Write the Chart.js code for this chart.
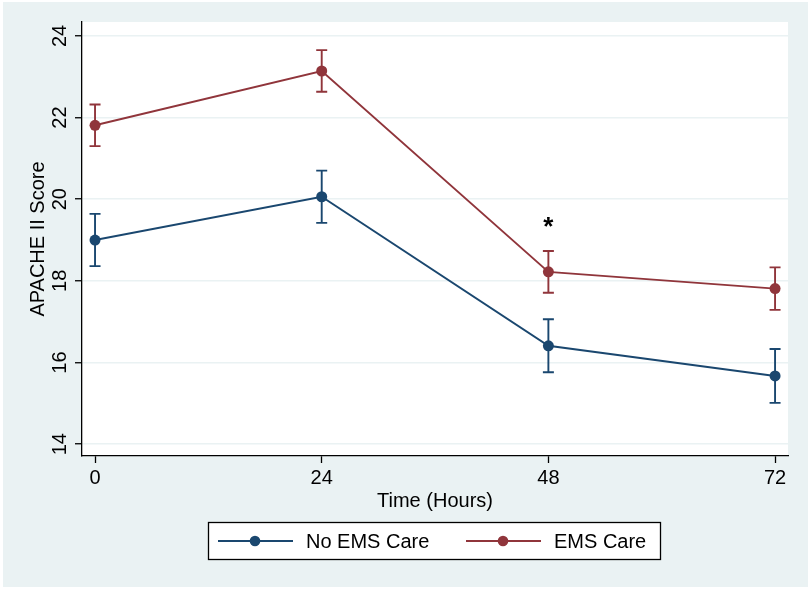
<!DOCTYPE html>
<html>
<head>
<meta charset="utf-8">
<script src="https://cdn.jsdelivr.net/npm/chart.js@4.4.1/dist/chart.umd.min.js"></script>
<style>
html,body{margin:0;padding:0;background:#fff;}
#wrap{width:811px;height:591px;}
</style>
</head>
<body>
<div id="wrap"><canvas id="apache" width="811" height="591"></canvas></div>
<script>
// data
const hours=[0,24,48,72];
const noEmsMean=[19.00,20.06,16.41,15.67];
const noEmsErr=[0.64,0.64,0.65,0.66];
const emsMean=[21.81,23.14,18.22,17.81];
const emsErr=[0.51,0.51,0.51,0.52];
const yTicks=[14,16,18,20,22,24];
const xTicks=[0,24,48,72];
const starAt={x:48,y:19.47};

const navy='#1a476f',maroon='#90353b',bgGray='#eaf2f3';
const FONT='"Liberation Sans", Arial, Helvetica, sans-serif';

function pts(xs,ys){return xs.map((x,i)=>({x:x,y:ys[i]}));}

const stataLook={
  id:'stataLook',
  beforeDraw(chart){
    const c=chart.ctx,a=chart.chartArea;
    c.save();
    c.fillStyle='#fff';c.fillRect(0,0,chart.width,chart.height);
    c.fillStyle=bgGray;c.fillRect(3,2,805,585);
    c.fillStyle='#fff';c.fillRect(a.left,a.top,a.right-a.left,a.bottom-a.top);
    c.restore();
  },
  beforeDatasetsDraw(chart){
    const c=chart.ctx,xs=chart.scales.x,ys=chart.scales.y;
    const errs=[noEmsErr,emsErr];
    chart.data.datasets.forEach((ds,di)=>{
      c.save();
      c.strokeStyle=ds.borderColor;c.lineWidth=1.9;
      ds.data.forEach((p,i)=>{
        const px=xs.getPixelForValue(p.x);
        const hi=ys.getPixelForValue(p.y+errs[di][i]),lo=ys.getPixelForValue(p.y-errs[di][i]);
        c.beginPath();
        c.moveTo(px,hi);c.lineTo(px,lo);
        c.moveTo(px-5.5,hi);c.lineTo(px+5.5,hi);
        c.moveTo(px-5.5,lo);c.lineTo(px+5.5,lo);
        c.stroke();
      });
      c.restore();
    });
  },
  afterDraw(chart){
    const c=chart.ctx,a=chart.chartArea,xs=chart.scales.x,ys=chart.scales.y;
    c.save();
    c.fillStyle='#000';
    c.font='20px '+FONT;
    // y tick labels, rotated like stata
    yTicks.forEach(v=>{
      const py=ys.getPixelForValue(v);
      c.save();c.translate(66,py);c.rotate(-Math.PI/2);
      c.textAlign='center';c.textBaseline='alphabetic';
      c.fillText(String(v),0,0);c.restore();
    });
    // y title
    c.save();c.translate(44,(a.top+a.bottom)/2);c.rotate(-Math.PI/2);
    c.textAlign='center';c.textBaseline='alphabetic';
    c.fillText('APACHE II Score',0,0);c.restore();
    // x title
    c.textAlign='center';c.textBaseline='alphabetic';
    c.fillText('Time (Hours)',(a.left+a.right)/2,507);
    // asterisk
    c.font='bold 26px '+FONT;
    c.fillText('*',xs.getPixelForValue(starAt.x),ys.getPixelForValue(starAt.y)+14.5);
    // legend
    c.fillStyle='#fff';c.fillRect(208,522,453,38);
    c.strokeStyle='#000';c.lineWidth=1.3;c.strokeRect(208.5,522.5,452,37);
    const items=[{lab:'No EMS Care',col:navy,x0:218},{lab:'EMS Care',col:maroon,x0:466}];
    items.forEach(it=>{
      const cy=541;
      c.strokeStyle=it.col;c.lineWidth=1.8;
      c.beginPath();c.moveTo(it.x0,cy);c.lineTo(it.x0+75,cy);c.stroke();
      c.fillStyle=it.col;c.beginPath();c.arc(it.x0+37,cy,5.3,0,Math.PI*2);c.fill();
      c.fillStyle='#000';c.font='20px '+FONT;c.textAlign='left';c.textBaseline='middle';
      c.fillText(it.lab,it.x0+88,cy+1);
    });
    c.restore();
  }
};

new Chart(document.getElementById('apache').getContext('2d'),{
  type:'line',
  data:{datasets:[
    {label:'No EMS Care',data:pts(hours,noEmsMean),borderColor:navy,backgroundColor:navy,borderWidth:1.9,pointRadius:5.5,pointBorderWidth:0,tension:0},
    {label:'EMS Care',data:pts(hours,emsMean),borderColor:maroon,backgroundColor:maroon,borderWidth:1.9,pointRadius:5.5,pointBorderWidth:0,tension:0}
  ]},
  options:{
    responsive:false,animation:false,
    layout:{padding:{top:22,right:23,left:0,bottom:0}},
    plugins:{legend:{display:false},tooltip:{enabled:false}},
    scales:{
      x:{type:'linear',min:-1.38,max:73.37,
        afterBuildTicks(s){s.ticks=xTicks.map(v=>({value:v}));},
        afterFit(s){s.height=135;},
        grid:{drawOnChartArea:false,tickColor:'#000',tickLength:7,tickWidth:1.3},
        border:{color:'#000',width:1.3},
        ticks:{color:'#000',font:{family:FONT,size:20},padding:3,maxRotation:0}},
      y:{type:'linear',min:13.71,max:24.34,
        afterBuildTicks(s){s.ticks=yTicks.map(v=>({value:v}));},
        afterFit(s){s.width=82;},
        grid:{color:bgGray,lineWidth:1.5,tickColor:'#000',tickLength:7,tickWidth:1.3},
        border:{color:'#000',width:1.3},
        ticks:{display:false}}
    }
  },
  plugins:[stataLook]
});
</script>
</body>
</html>
